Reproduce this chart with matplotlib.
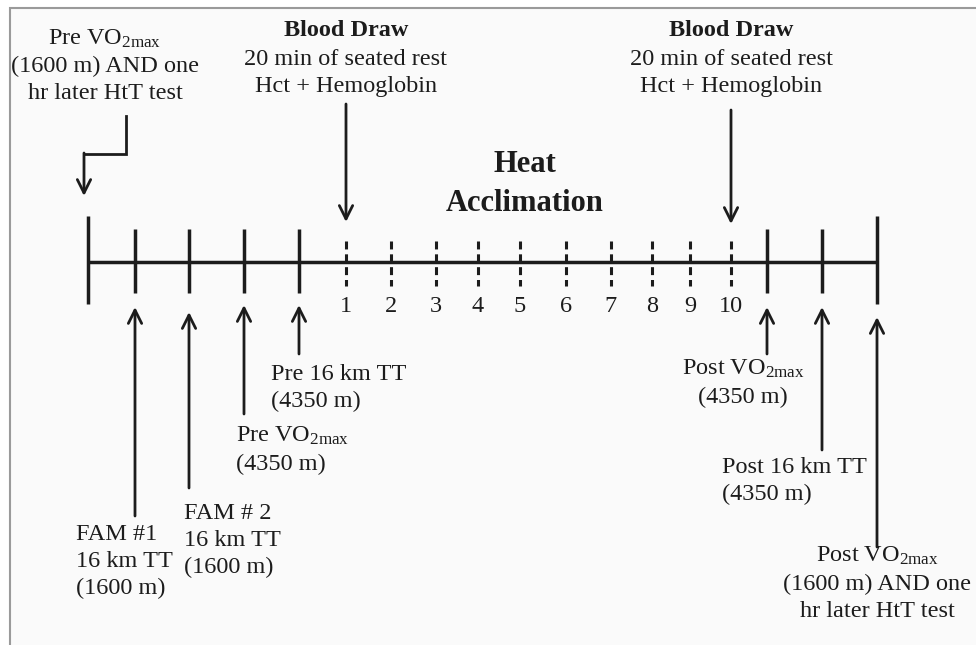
import matplotlib.pyplot as plt
from matplotlib.patches import Rectangle

# Timeline layout (pixel coordinates of the original figure)
line_y = 262
line_start, line_end = 88, 877

# solid ticks for testing sessions
solid_ticks = [88, 135, 189, 244, 299, 767, 822, 877]
tall_ticks = [88, 877]

# dashed ticks for heat acclimation days
day_ticks = [346, 391, 436, 478, 520, 566, 611, 652, 690, 731]
day_labels = ["1", "2", "3", "4", "5", "6", "7", "8", "9", "10"]

VO2 = r"VO$_{\mathrm{2max}}$"

# arrows from below: (x, tail y, head y)
below_x = [135, 189, 244, 299, 767, 822, 877]
below_tail = [516, 488, 414, 354, 354, 450, 547]
below_head = [307, 312, 305, 305, 307, 307, 317]

below_text = [
    "FAM #1\n16 km TT\n(1600 m)",
    "FAM # 2\n16 km TT\n(1600 m)",
    "Pre " + VO2 + "\n(4350 m)",
    "Pre 16 km TT\n(4350 m)",
    "Post " + VO2 + "\n(4350 m)",
    "Post 16 km TT\n(4350 m)",
    "Post " + VO2 + "\n(1600 m) AND one\nhr later HtT test",
]
below_text_xy = [(76, 524), (184, 503), (236, 425), (271, 364),
                 (743, 358), (722, 457), (877, 545)]
below_text_ha = ["left", "left", "left", "left", "center", "left", "center"]

# blood draws from above
draw_x = [346, 731]
draw_tail = [104, 110]
draw_head = [222, 224]

ink = "#1c1c1c"
fs = 17.5

plt.rcParams["font.family"] = ["Liberation Serif", "DejaVu Serif"]
plt.rcParams["mathtext.fontset"] = "custom"
plt.rcParams["mathtext.rm"] = "Liberation Serif"
plt.rcParams["mathtext.it"] = "Liberation Serif:italic"
plt.rcParams["mathtext.bf"] = "Liberation Serif:bold"

fig = plt.figure(figsize=(9.76, 6.45), dpi=100)
fig.patch.set_facecolor("white")
ax = fig.add_axes([0, 0, 1, 1])
ax.set_xlim(0, 976)
ax.set_ylim(645, 0)
ax.axis("off")

# light frame of the original figure panel
ax.add_patch(Rectangle((10, 8), 1000, 700, facecolor="#fafafa",
                       edgecolor="#9a9a9a", lw=1.5, zorder=0))

# main line
ax.plot([line_start, line_end], [line_y, line_y], color=ink, lw=2.5,
        solid_capstyle="butt")

for x in solid_ticks:
    if x in tall_ticks:
        y0, y1 = 216, 304
    else:
        y0, y1 = 229, 293
    ax.plot([x, x], [y0, y1], color=ink, lw=2.5, solid_capstyle="butt")

for x, lab in zip(day_ticks, day_labels):
    ax.plot([x, x], [241, 286], color=ink, lw=2.2, linestyle=(0, (2.6, 1.6)))
    ax.text(x, 307, lab, ha="center", va="center", fontsize=fs, color=ink)

arrow_kw = dict(arrowstyle="->", color=ink, lw=2, mutation_scale=24,
                shrinkA=0, shrinkB=0)

for x, t, h in zip(below_x, below_tail, below_head):
    ax.annotate("", xy=(x, h), xytext=(x, t), arrowprops=arrow_kw)

for s, (tx, ty), ha in zip(below_text, below_text_xy, below_text_ha):
    ax.text(tx, ty, s, ha=ha, va="top", multialignment=ha, fontsize=fs,
            color=ink, linespacing=1.38)

for x, t, h in zip(draw_x, draw_tail, draw_head):
    ax.annotate("", xy=(x, h), xytext=(x, t), arrowprops=arrow_kw)
    ax.text(x, 30, "Blood Draw", ha="center", va="center", fontsize=fs,
            fontweight="bold", color=ink)
    ax.text(x, 73, "20 min of seated rest\nHct + Hemoglobin", ha="center",
            va="center", fontsize=fs, color=ink, linespacing=1.38)

# pre test label with elbow arrow
ax.text(105, 66, "Pre " + VO2 + "\n(1600 m) AND one\nhr later HtT test",
        ha="center", va="center", fontsize=fs, color=ink, linespacing=1.38)
ax.plot([126, 126, 84], [116, 154, 154], color=ink, lw=2,
        solid_joinstyle="miter")
ax.annotate("", xy=(84, 196), xytext=(84, 153), arrowprops=arrow_kw)

ax.text(525, 184, "Heat\nAcclimation", ha="center", va="center", fontsize=22,
        fontweight="bold", color=ink, linespacing=1.45)

fig.savefig("out.png", dpi=100)
